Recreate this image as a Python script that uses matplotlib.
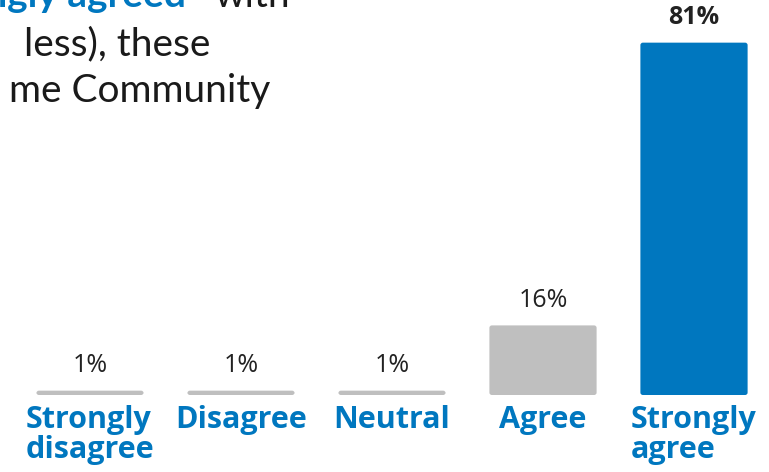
import matplotlib
matplotlib.use("Agg")
import matplotlib.pyplot as plt
from matplotlib.patches import FancyBboxPatch

categories = ["Strongly\ndisagree", "Disagree", "Neutral", "Agree", "Strongly\nagree"]
values = [1, 1, 1, 16, 81]
labels = ["1%", "1%", "1%", "16%", "81%"]

BLUE = "#0077BF"
GREY = "#BFBFBF"
colors = [GREY, GREY, GREY, GREY, BLUE]

W, H = 769, 472
fig = plt.figure(figsize=(W / 100, H / 100), dpi=100)
ax = fig.add_axes([0, 0, 1, 1])

# one category step = 151 px, 1% = 4.35 px, baseline 77 px above the bottom
step, unit, base, x0 = 151.0, 4.35, 77.0, 90.0
ax.set_xlim(-x0 / step, (W - x0) / step)
ax.set_ylim(-base / unit, (H - base) / unit)

x = range(len(values))
bars = ax.bar(x, values, width=0.71, color=colors)

# swap the plain rectangles for slightly rounded ones
for b, c in zip(bars, colors):
    bx, by = b.get_xy()
    b.set_visible(False)
    r = 2.5 / step
    ax.add_patch(FancyBboxPatch((bx, by), b.get_width(), b.get_height(),
                                boxstyle=f"round,pad=0,rounding_size={r}",
                                mutation_aspect=step / unit,
                                facecolor=c, edgecolor="none"))

for i, (v, lab) in enumerate(zip(values, labels)):
    ax.annotate(lab, (i, v), xytext=(0, 9), textcoords="offset points",
                ha="center", va="bottom", fontsize=18, color="#222222",
                family="Open Sans",
                fontweight="bold" if i == len(values) - 1 else "normal")

for i, cat in enumerate(categories):
    ax.annotate(cat, (i, 0), xytext=(0, -7), textcoords="offset points",
                ha="center", va="top", multialignment="left",
                fontsize=22, fontweight="bold", color=BLUE, family="Open Sans",
                linespacing=1.0)

ax.axis("off")

# heading text running in from the left edge of the slide
def px(xp, yp):
    return xp / W, 1 - yp / H

fig.text(*px(186, 7), "strongly agreed", ha="right", va="baseline",
         fontsize=28, fontweight="bold", color=BLUE, family="Lato")
fig.text(*px(290, 7), "with", ha="right", va="baseline",
         fontsize=28, color="#1a1a1a", family="Lato")
fig.text(*px(210, 55), "less), these", ha="right", va="baseline",
         fontsize=28, color="#1a1a1a", family="Lato")
fig.text(*px(270, 102), "me Community", ha="right", va="baseline",
         fontsize=28, color="#1a1a1a", family="Lato")

fig.savefig("out.png", dpi=100)
